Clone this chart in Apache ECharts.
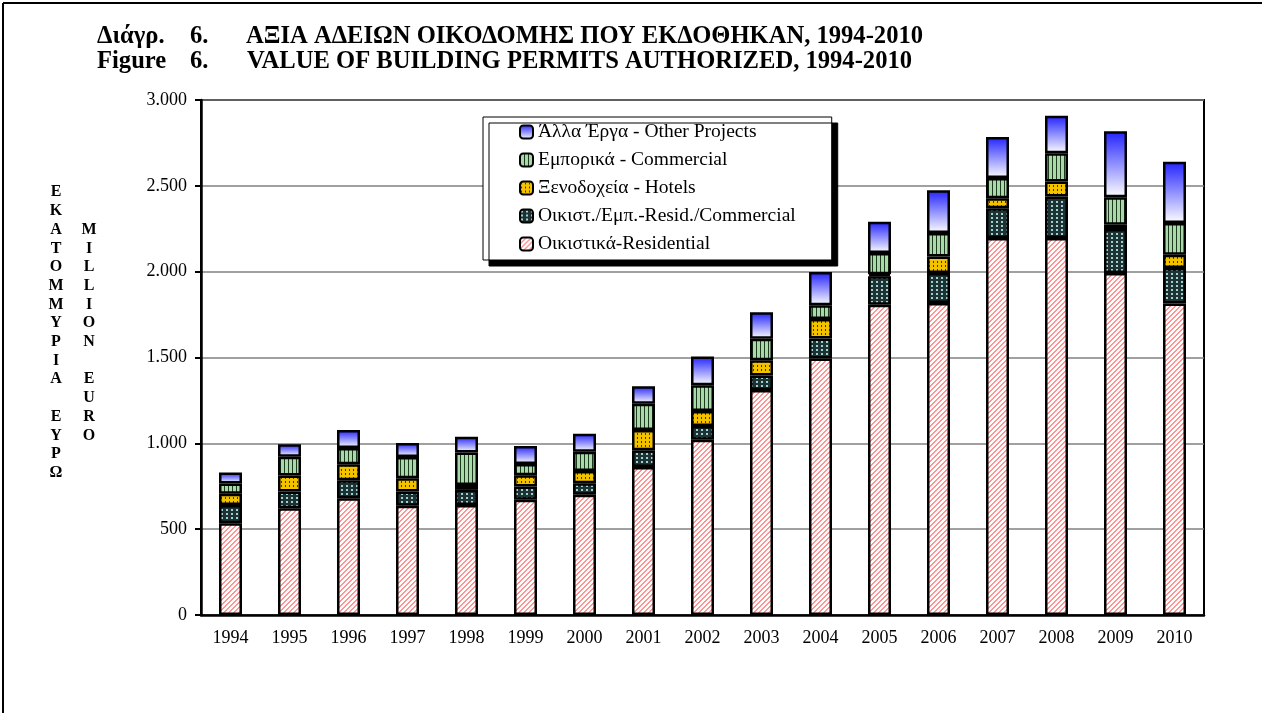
<!DOCTYPE html>
<html>
<head>
<meta charset="UTF-8" />
<script type="text/javascript" src="https://cdn.jsdelivr.net/npm/echarts@6/dist/echarts.min.js"></script>
<style>
  html, body { margin: 0; padding: 0; background: #fff; }
  #chartmain { width: 1262px; height: 713px; }
</style>
</head>
<body>
<div id="chartmain"></div>
<script type="text/javascript">
	// data (million euro)
	var years = ['1994', '1995', '1996', '1997', '1998', '1999', '2000', '2001', '2002',
		'2003', '2004', '2005', '2006', '2007', '2008', '2009', '2010'];
	var residential = [535, 622, 680, 636, 641, 671, 700, 862, 1021, 1310, 1494, 1808, 1818, 2196, 2196, 1992, 1814];
	var residComm = [106, 97, 105, 83, 88, 77, 67, 97, 80, 85, 116, 165, 174, 174, 242, 256, 207];
	var hotels = [66, 93, 93, 78, 29, 66, 72, 118, 87, 89, 115, 12, 97, 58, 87, 25, 78];
	var commercial = [59, 110, 95, 124, 188, 66, 112, 154, 151, 125, 79, 124, 136, 117, 165, 161, 184];
	var otherProj = [64, 72, 104, 81, 93, 105, 105, 102, 167, 154, 194, 182, 250, 240, 218, 384, 358];

	var seriesNames = ['Οικιστικά-Residential', 'Οικιστ./Εμπ.-Resid./Commercial',
		'Ξενοδοχεία - Hotels', 'Εμπορικά - Commercial', 'Άλλα Έργα - Other Projects'];
	var yTicks = [0, 500, 1000, 1500, 2000, 2500, 3000];
	var titleGr = 'ΑΞΙΑ ΑΔΕΙΩΝ ΟΙΚΟΔΟΜΗΣ ΠΟΥ ΕΚΔΟΘΗΚΑΝ, 1994-2010';
	var titleEn = 'VALUE OF BUILDING PERMITS AUTHORIZED, 1994-2010';
	var yNameGr = 'ΕΚΑΤΟΜΜΥΡΙΑ ΕΥΡΩ';
	var yNameEn = 'MILLION EURO';

	var serif = '"Liberation Serif", "Times New Roman", serif';

	// small canvas tiles used as fill patterns
	function makeTile(w, h, paint) {
		var c = document.createElement('canvas');
		c.width = w; c.height = h;
		var ctx = c.getContext('2d');
		for (var y = 0; y < h; y++) {
			for (var x = 0; x < w; x++) {
				ctx.fillStyle = paint(x, y);
				ctx.fillRect(x, y, 1, 1);
			}
		}
		return { image: c, repeat: 'repeat' };
	}
	var patResid = makeTile(5, 5, function (x, y) {
		return ((x + y) % 5) < 2 ? '#ff9494' : '#ffffff';
	});
	var patResidComm = makeTile(5, 4, function (x, y) {
		return (x >= 1 && x <= 2 && y >= 1 && y <= 2) ? '#9fcfcf' : '#1d3333';
	});
	var patHotels = makeTile(4, 4, function (x, y) {
		return (x == 1 && (y == 1 || y == 2)) ? '#4a3a00' : '#f2c200';
	});
	var patComm = makeTile(4, 1, function (x, y) {
		return x == 0 ? '#1e3a1e' : '#a9d9a9';
	});
	var gradOther = {
		type: 'linear', x: 0, y: 0, x2: 0, y2: 1,
		colorStops: [{ offset: 0, color: '#2222ff' }, { offset: 1, color: '#ffffff' }]
	};
	var fills = [patResid, patResidComm, patHotels, patComm, gradOther];
	var values = [residential, residComm, hotels, commercial, otherProj];

	function fmt(v) {
		if (v < 1000) return String(v);
		return Math.floor(v / 1000) + '.' + String(v % 1000).padStart(3, '0');
	}

	var series = [];
	for (var i = 0; i < values.length; i++) {
		series.push({
			name: seriesNames[i],
			type: 'bar',
			stack: 'total',
			barWidth: 23,
			data: values[i],
			itemStyle: { color: fills[i], borderColor: '#000', borderWidth: 2.5 }
		});
	}

	function column(str) { return str.split('').join('\n'); }
	var tFont = 'bold 24.6px ' + serif;
	var nFont = 'bold 16px ' + serif;

	var option = {
		animation: false,
		grid: {
			left: 201, right: 58, top: 100, bottom: 98,
			show: true, borderColor: '#000', borderWidth: 2
		},
		legend: {
			orient: 'vertical',
			left: 483, top: 117,
			data: seriesNames.slice().reverse(),
			itemWidth: 13, itemHeight: 13, itemGap: 8,
			padding: [5, 36, 6, 36],
			backgroundColor: '#fff',
			borderColor: '#000', borderWidth: 1,
			shadowColor: '#000', shadowBlur: 0, shadowOffsetX: 6, shadowOffsetY: 6,
			textStyle: { fontFamily: serif, fontSize: 19.5, color: '#000', lineHeight: 19.5 }
		},
		xAxis: {
			type: 'category',
			data: years,
			axisLine: { lineStyle: { color: '#000', width: 2.5 } },
			axisTick: { length: 7, lineStyle: { color: '#000', width: 2 } },
			axisLabel: { fontFamily: serif, fontSize: 18, color: '#000', margin: 14, interval: 0 }
		},
		yAxis: {
			type: 'value',
			min: yTicks[0], max: yTicks[yTicks.length - 1], interval: 500,
			axisLine: { show: true, lineStyle: { color: '#000', width: 2.5 } },
			axisTick: { show: true, length: 6, lineStyle: { color: '#000', width: 2 } },
			splitLine: { lineStyle: { color: '#808080', width: 1.5 } },
			axisLabel: { fontFamily: serif, fontSize: 18, color: '#000', margin: 14, formatter: fmt }
		},
		graphic: [
			{ type: 'line', shape: { x1: 3, y1: 3, x2: 1262, y2: 3 }, style: { stroke: '#000', lineWidth: 2 } },
			{ type: 'line', shape: { x1: 3, y1: 3, x2: 3, y2: 713 }, style: { stroke: '#000', lineWidth: 2 } },
			{ type: 'text', x: 97, y: 37, style: { text: 'Διάγρ.', font: tFont, fill: '#000', verticalAlign: 'middle' } },
			{ type: 'text', x: 190, y: 37, style: { text: '6.', font: tFont, fill: '#000', verticalAlign: 'middle' } },
			{ type: 'text', x: 246, y: 37, style: { text: titleGr, font: tFont, fill: '#000', verticalAlign: 'middle' } },
			{ type: 'text', x: 97, y: 62, style: { text: 'Figure', font: tFont, fill: '#000', verticalAlign: 'middle' } },
			{ type: 'text', x: 190, y: 62, style: { text: '6.', font: tFont, fill: '#000', verticalAlign: 'middle' } },
			{ type: 'text', x: 247, y: 62, style: { text: titleEn, font: tFont, fill: '#000', verticalAlign: 'middle' } },
			{ type: 'text', x: 56, y: 183, style: { text: column(yNameGr), font: nFont, fill: '#000', align: 'center', verticalAlign: 'top', lineHeight: 18.7 } },
			{ type: 'text', x: 89, y: 220.4, style: { text: column(yNameEn), font: nFont, fill: '#000', align: 'center', verticalAlign: 'top', lineHeight: 18.7 } }
		],
		series: series
	};

	var myChart = echarts.init(document.getElementById('chartmain'), null, { renderer: 'canvas' });
	myChart.setOption(option);
</script>
</body>
</html>
